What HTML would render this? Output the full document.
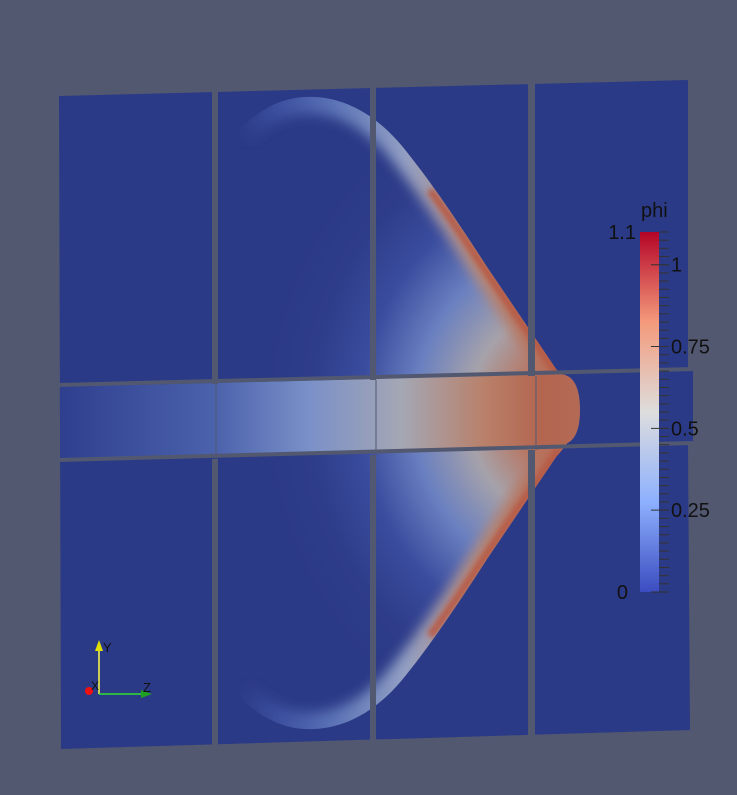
<!DOCTYPE html>
<html><head><meta charset="utf-8"><style>
html,body{margin:0;padding:0;background:#525870;width:737px;height:795px;overflow:hidden}
text{font-family:"Liberation Sans",sans-serif}
</style></head><body>
<svg id="s" width="737" height="795" viewBox="0 0 737 795">
<defs>
<filter id="b6" x="-30%" y="-30%" width="160%" height="160%"><feGaussianBlur stdDeviation="6"/></filter>
<filter id="b3" x="-30%" y="-30%" width="160%" height="160%"><feGaussianBlur stdDeviation="3"/></filter>
<filter id="b12" x="-30%" y="-30%" width="160%" height="160%"><feGaussianBlur stdDeviation="12"/></filter>
<radialGradient id="fillg" cx="565" cy="413" r="300" gradientUnits="userSpaceOnUse" gradientTransform="translate(565 413) scale(1 1.1) translate(-565 -413)">
<stop offset="0" stop-color="#b3654f"/><stop offset="0.16" stop-color="#b8745f"/><stop offset="0.32" stop-color="#a6a2aa"/><stop offset="0.5" stop-color="#6a80c0"/><stop offset="0.68" stop-color="#3a4c9e"/><stop offset="0.85" stop-color="#2e3d8a"/><stop offset="1" stop-color="#2b3a86"/></radialGradient>
<linearGradient id="ridgeg" x1="240" y1="0" x2="570" y2="0" gradientUnits="userSpaceOnUse">
<stop offset="0" stop-color="#2b3a86"/><stop offset="0.12" stop-color="#3c50a0"/><stop offset="0.3" stop-color="#5e76b8"/><stop offset="0.5" stop-color="#93a0c4"/><stop offset="0.72" stop-color="#b48a7a"/><stop offset="1" stop-color="#b8654f"/></linearGradient>
<linearGradient id="band" x1="60" y1="0" x2="578" y2="0" gradientUnits="userSpaceOnUse">
<stop offset="0" stop-color="#2f3f8f"/><stop offset="0.3" stop-color="#4b62ac"/><stop offset="0.48" stop-color="#7a90c8"/><stop offset="0.66" stop-color="#a4a7b4"/><stop offset="0.82" stop-color="#b9806a"/><stop offset="0.93" stop-color="#b3654f"/><stop offset="1" stop-color="#b36a55"/></linearGradient>
<linearGradient id="cbar" x1="0" y1="1" x2="0" y2="0">
<stop offset="0" stop-color="#3b4cc0"/><stop offset="0.25" stop-color="#8db0fe"/><stop offset="0.5" stop-color="#dddddd"/><stop offset="0.75" stop-color="#f49a7b"/><stop offset="1" stop-color="#b40426"/></linearGradient>
<clipPath id="panels"><polygon points="59,96 688,80 693,730 61,749"/></clipPath>
<clipPath id="wedgeClip">
<path d="M578 413 C578 395 566 380 556 369 L487 267 C460 225 430 180 402 146 C372 110 335 92 295 98 C272 102 256 114 240 128 L200 413 Z"/>
<path d="M578 413 C578 395 566 380 556 369 L487 267 C460 225 430 180 402 146 C372 110 335 92 295 98 C272 102 256 114 240 128 L200 413 Z" transform="matrix(1 0 0 -1 0 826)"/>
</clipPath>
<clipPath id="bandClip"><path d="M59 387 L560 374 Q580 375 580 410 Q580 444 560 445 L59 460 Z"/></clipPath>
</defs>
<polygon points="59,96 688,80 688,370 693,370 693,444 688,444 690,730 61,749" fill="#2b3a86"/>
<g clip-path="url(#panels)">
<g clip-path="url(#wedgeClip)">
<rect x="190" y="80" width="400" height="670" fill="url(#fillg)"/>
<path d="M556 369 L487 267 C460 225 430 180 402 146 C372 110 335 92 295 98 C272 102 256 114 240 128" fill="none" stroke="url(#ridgeg)" stroke-width="34" filter="url(#b6)"/>
<path d="M556 369 L487 267 C460 225 430 180 402 146 C372 110 335 92 295 98 C272 102 256 114 240 128" fill="none" stroke="url(#ridgeg)" stroke-width="34" filter="url(#b6)" transform="matrix(1 0 0 -1 0 826)"/>
<path d="M560 378 L480 262 C460 232 445 210 430 190" fill="none" stroke="#b75a44" stroke-width="8" filter="url(#b3)"/>
<path d="M560 378 L480 262 C460 232 445 210 430 190" fill="none" stroke="#b75a44" stroke-width="8" filter="url(#b3)" transform="matrix(1 0 0 -1 0 826)"/>
</g>
<rect x="59" y="370" width="525" height="95" fill="url(#band)" clip-path="url(#bandClip)"/>
</g>
<g fill="#525870">
<polygon points="212,90 218,90 218,384 212,384"/>
<polygon points="212,459 218,459 218,748 212,748"/>
<polygon points="370,86 376,86 376,380 370,380"/>
<polygon points="370,455 376,455 376,745 370,745"/>
<polygon points="528,82 535,82 535,376 528,376"/>
<polygon points="528,450 535,450 535,741 528,741"/>
<line x1="216" y1="384" x2="216" y2="459" stroke="#525870" stroke-width="1"/>
<line x1="376" y1="380" x2="376" y2="455" stroke="#525870" stroke-width="1"/>
<line x1="536" y1="376" x2="536" y2="450" stroke="#525870" stroke-width="1"/>
<polygon points="59,383 693,367 693,371 59,387"/>
<polygon points="59,458 693,441 693,445 59,462"/>
</g>
<g>
<line x1="99" y1="694" x2="99" y2="648" stroke="#ffff40" stroke-width="1.5"/>
<polygon points="99,640 95,651 103,651" fill="#e0e000"/>
<line x1="99" y1="694" x2="145" y2="694" stroke="#30e030" stroke-width="1.5"/>
<polygon points="152,694 141,690 141,698" fill="#20a020"/>
<circle cx="89" cy="691" r="4" fill="#f01010"/>
<text x="103" y="652" font-size="13" fill="#111">Y</text>
<text x="143" y="692" font-size="13" fill="#111">Z</text>
<text x="91" y="690" font-size="12" fill="#111">X</text>
</g>
<g id="cb">
<text x="641" y="217" font-size="20" fill="#111">phi</text>
<rect x="640" y="232" width="19" height="360" fill="url(#cbar)"/>
</g>
<script>
const tickValues=[0,0.25,0.5,0.75,1];
const tickLabels=["0","0.25","0.5","0.75","1"];
const rangeMin=0, rangeMax=1.1;
const y0=592,y1=232;
const yS=v=>y0-(v-rangeMin)/(rangeMax-rangeMin)*(y0-y1);
const g=document.getElementById('cb');
const NS='http://www.w3.org/2000/svg';
for(let v=0;v<=1.1001;v+=0.025){const l=document.createElementNS(NS,'line');


l.setAttribute('x1',659);l.setAttribute('x2',669);l.setAttribute('y1',yS(v));l.setAttribute('y2',yS(v));l.setAttribute('stroke','#333');g.appendChild(l);}
tickValues.forEach((v,i)=>{const l=document.createElementNS(NS,'line');


l.setAttribute('x1',651);l.setAttribute('x2',669);l.setAttribute('y1',yS(v));l.setAttribute('y2',yS(v));l.setAttribute('stroke','#333');g.appendChild(l);
const t=document.createElementNS(NS,'text');


if(v===0){t.setAttribute('x',628);t.setAttribute('text-anchor','end');}else{t.setAttribute('x',671);}
t.setAttribute('y',yS(v)+7);t.setAttribute('font-size','20');t.setAttribute('fill','#111');t.textContent=tickLabels[i];g.appendChild(t);});
const t=document.createElementNS(NS,'text');


t.setAttribute('x',636);t.setAttribute('text-anchor','end');t.setAttribute('y',yS(rangeMax)+7);t.setAttribute('font-size','20');t.setAttribute('fill','#111');t.textContent='1.1';g.appendChild(t);
</script>
</svg>
</body></html>
